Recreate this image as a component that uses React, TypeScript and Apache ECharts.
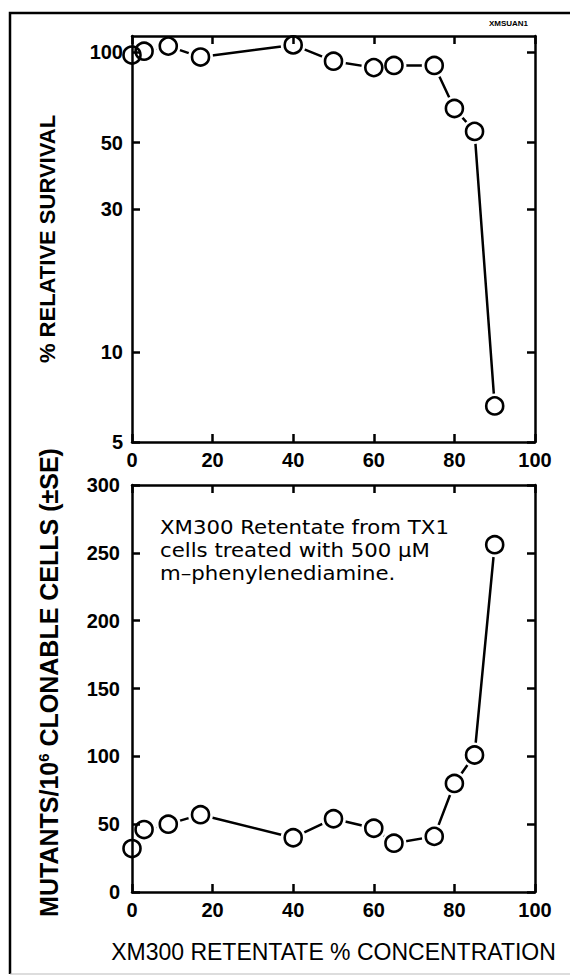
import React, { useEffect, useRef } from 'react';
import * as echarts from 'echarts';

const concentration = [0, 3, 9, 17, 40, 50, 60, 65, 75, 80, 85, 90];
const survival = [98, 101, 105, 96.5, 106, 93.5, 89, 90.5, 90.5, 65, 54.5, 6.6];
const mutants = [32, 46, 50, 57, 40, 54, 47, 36, 41, 80, 101, 256];
const survivalTicks = [5, 10, 30, 50, 100];
const noteLines = ['XM300 Retentate from TX1', 'cells treated with 500 \u03bcM', 'm\u2013phenylenediamine.'];
const xTitle = 'XM300 RETENTATE % CONCENTRATION';
const topYTitle = '% RELATIVE SURVIVAL';
const bottomYTitle = 'MUTANTS/10{sup|6} CLONABLE CELLS (\u00b1SE)';
const cornerTag = 'XMSUAN1';

const FONT = '"Liberation Sans", Arial, sans-serif';
const BLACK = '#000';

function pairs(ys: number[]) {
  return concentration.map((x, i) => [x, ys[i]]);
}

export default function App() {
  const ref = useRef<HTMLDivElement>(null);
  useEffect(() => {
    if (!ref.current) return;
    const chart = echarts.init(ref.current, undefined, { renderer: 'svg' });
    const axisLine = { show: true, onZero: false, lineStyle: { color: BLACK, width: 2.5 } };
    const tick = { show: true, inside: true, length: 8, lineStyle: { color: BLACK, width: 2.5 } };
    const label = { color: BLACK, fontFamily: FONT, fontWeight: 'bold' as const, fontSize: 20 };
    const xBase = (grid: number, pos: 'top' | 'bottom', showLabel: boolean, extra: any = {}) => ({
      type: 'value',
      gridIndex: grid,
      position: pos,
      min: 0,
      max: 100,
      interval: 20,
      z: 10,
      axisLine,
      axisTick: tick,
      splitLine: { show: false },
      axisLabel: { show: showLabel, margin: 8, ...label },
      ...extra,
    });
    const seriesFor = (grid: number, ys: number[]) => [
      {
        type: 'line',
        xAxisIndex: grid === 0 ? 0 : 2,
        yAxisIndex: grid === 0 ? 0 : 2,
        data: pairs(ys),
        showSymbol: false,
        lineStyle: { color: BLACK, width: 2.5 },
        z: 2,
        silent: true,
      },
      {
        type: 'scatter',
        xAxisIndex: grid === 0 ? 0 : 2,
        yAxisIndex: grid === 0 ? 0 : 2,
        data: pairs(ys),
        symbol: 'circle',
        symbolSize: 25,
        itemStyle: { color: '#fff', opacity: 1 },
        z: 3,
        silent: true,
      },
      {
        type: 'scatter',
        xAxisIndex: grid === 0 ? 0 : 2,
        yAxisIndex: grid === 0 ? 0 : 2,
        data: pairs(ys),
        symbol: 'circle',
        symbolSize: 17,
        itemStyle: { color: 'rgba(255,255,255,0)', borderColor: BLACK, borderWidth: 2.6, opacity: 1 },
        z: 4,
        silent: true,
      },
    ];
    chart.setOption({
      animation: false,
      backgroundColor: '#fff',
      textStyle: { fontFamily: FONT, color: BLACK },
      grid: [
        { left: 132, top: 36, width: 403, height: 406 },
        { left: 132, top: 485, width: 403, height: 407 },
      ],
      xAxis: [
        xBase(0, 'bottom', true),
        xBase(0, 'top', false),
        xBase(1, 'bottom', true, {
          name: xTitle,
          nameLocation: 'middle',
          nameGap: 48,
          nameTextStyle: { color: BLACK, fontFamily: FONT, fontSize: 23 },
        }),
        xBase(1, 'top', false),
      ],
      yAxis: [
        {
          type: 'log',
          gridIndex: 0,
          position: 'left',
          min: 5,
          max: 113.5,
          z: 10,
          axisLine,
          axisTick: { ...tick, customValues: survivalTicks },
          splitLine: { show: false },
          axisLabel: { margin: 9, customValues: survivalTicks, ...label },
          name: topYTitle,
          nameLocation: 'middle',
          nameRotate: 90,
          nameGap: 74,
          nameTextStyle: { color: BLACK, fontFamily: FONT, fontWeight: 'bold', fontSize: 22 },
        },
        {
          type: 'log',
          gridIndex: 0,
          position: 'right',
          min: 5,
          max: 113.5,
          z: 10,
          axisLine,
          axisTick: { ...tick, customValues: survivalTicks },
          splitLine: { show: false },
          axisLabel: { show: false, customValues: survivalTicks },
        },
        {
          type: 'value',
          gridIndex: 1,
          position: 'left',
          min: 0,
          max: 300,
          interval: 50,
          z: 10,
          axisLine,
          axisTick: tick,
          splitLine: { show: false },
          axisLabel: { margin: 12, ...label },
          name: bottomYTitle,
          nameLocation: 'middle',
          nameRotate: 90,
          nameGap: 71,
          nameTextStyle: {
            color: BLACK,
            fontFamily: FONT,
            fontWeight: 'bold',
            fontSize: 25,
            padding: [0, 0, 0, 12],
            rich: {
              sup: { fontFamily: FONT, fontWeight: 'bold', fontSize: 15, verticalAlign: 'top', color: BLACK },
            },
          },
        },
        {
          type: 'value',
          gridIndex: 1,
          position: 'right',
          min: 0,
          max: 300,
          interval: 50,
          z: 10,
          axisLine,
          axisTick: tick,
          splitLine: { show: false },
          axisLabel: { show: false },
        },
      ],
      series: [...seriesFor(0, survival), ...seriesFor(1, mutants)],
      graphic: [
        {
          type: 'polyline',
          shape: { points: [[570, 13], [10, 13], [10, 974]] },
          style: { stroke: BLACK, lineWidth: 2.5, fill: 'none' },
          silent: true,
        },
        {
          type: 'line',
          shape: { x1: 10, y1: 974, x2: 570, y2: 974 },
          style: { stroke: '#bbb', lineWidth: 1 },
          silent: true,
        },
        {
          type: 'text',
          right: 42,
          top: 19,
          style: { text: cornerTag, fontSize: 8, fontWeight: 'bold', fontFamily: FONT, fill: BLACK },
          silent: true,
        },
        {
          type: 'text',
          x: 160,
          y: 516,
          scaleX: 1.12,
          style: {
            text: noteLines.join('\n'),
            fontSize: 19,
            lineHeight: 23,
            fontFamily: '"DejaVu Sans", sans-serif',
            fill: BLACK,
          },
          silent: true,
        },
      ],
    });
    return () => chart.dispose();
  }, []);
  return (
    <div
      ref={ref}
      style={{ position: 'fixed', left: 0, top: 0, width: 570, height: 975, background: '#fff' }}
    />
  );
}
